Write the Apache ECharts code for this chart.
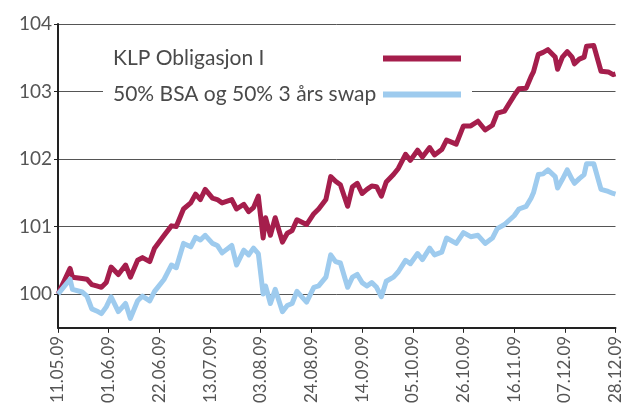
<!DOCTYPE html>
<html lang="no">
<head>
    <meta charset="UTF-8">
    <title>KLP Obligasjon I</title>
    <script src="https://cdn.jsdelivr.net/npm/echarts@6/dist/echarts.min.js"></script>
    <style>
        html, body { margin: 0; padding: 0; background: #fff; }
        #chart { width: 624px; height: 406px; }
    </style>
</head>
<body>
    <div id="chart"></div>
    <script type="text/javascript">
        // dager etter 11.05.09
        var days = [0, 5, 6, 10, 12, 14, 16, 18, 20, 22, 25, 28, 30, 33, 35, 38, 40, 44, 47, 49,
            52, 55, 57, 59, 61, 64, 66, 68, 72, 74, 77, 79, 81, 83, 85, 86, 88, 90, 93, 95,
            97, 99, 103, 106, 108, 111, 113, 115, 117, 120, 122, 124, 126, 128, 130, 132, 134, 136, 139, 141,
            144, 146, 149, 151, 154, 156, 159, 161, 165, 168, 171, 174, 177, 180, 182, 185, 189, 191, 194, 196,
            197, 199, 201, 203, 206, 207, 209, 211, 213, 214, 216, 218, 219, 222, 225, 228, 230, 231];

        var klp = [100, 100.38, 100.25, 100.23, 100.22, 100.14, 100.12, 100.1, 100.17, 100.4, 100.29, 100.43, 100.25, 100.5, 100.54, 100.48, 100.68, 100.87, 101.01, 101.0,
            101.26, 101.35, 101.48, 101.4, 101.55, 101.42, 101.4, 101.35, 101.4, 101.26, 101.33, 101.22, 101.28, 101.45, 100.83, 101.13, 100.87, 101.13, 100.77, 100.9,
            100.94, 101.1, 101.03, 101.19, 101.26, 101.4, 101.74, 101.67, 101.62, 101.3, 101.59, 101.64, 101.49, 101.55, 101.6, 101.59, 101.45, 101.66, 101.77, 101.86,
            102.07, 101.98, 102.13, 102.03, 102.17, 102.06, 102.14, 102.28, 102.22, 102.49, 102.49, 102.56, 102.43, 102.5, 102.68, 102.71, 102.94, 103.04, 103.05, 103.22,
            103.29, 103.55, 103.58, 103.62, 103.51, 103.33, 103.51, 103.59, 103.51, 103.41, 103.48, 103.51, 103.67, 103.68, 103.3, 103.29, 103.25, 103.26];

        var blanding = [100, 100.22, 100.07, 100.03, 99.97, 99.78, 99.75, 99.71, 99.81, 99.96, 99.74, 99.86, 99.64, 99.9, 99.97, 99.9, 100.04, 100.22, 100.43, 100.39,
            100.75, 100.7, 100.84, 100.8, 100.87, 100.75, 100.72, 100.61, 100.72, 100.43, 100.65, 100.58, 100.68, 100.6, 100.0, 100.12, 99.86, 100.07, 99.74, 99.83,
            99.86, 100.04, 99.88, 100.1, 100.12, 100.25, 100.58, 100.48, 100.46, 100.1, 100.25, 100.29, 100.17, 100.12, 100.17, 100.1, 99.96, 100.19, 100.25, 100.33,
            100.5, 100.45, 100.6, 100.51, 100.68, 100.58, 100.62, 100.83, 100.75, 100.91, 100.85, 100.87, 100.75, 100.83, 100.97, 101.03, 101.16, 101.26, 101.3, 101.42,
            101.5, 101.77, 101.78, 101.84, 101.74, 101.57, 101.7, 101.84, 101.7, 101.64, 101.71, 101.77, 101.93, 101.93, 101.55, 101.52, 101.49, 101.48];

        var seriesNames = ['KLP Obligasjon I', '50% BSA og 50% 3 års swap'];
        var yLabels = [100, 101, 102, 103, 104];

        var startDate = new Date(2009, 4, 11);
        function dato(v) {
            var d = new Date(startDate.getTime() + Math.round(v) * 86400000);
            var dd = ('0' + d.getDate()).slice(-2);
            var mm = ('0' + (d.getMonth() + 1)).slice(-2);
            var yy = ('' + d.getFullYear()).slice(-2);
            return dd + '.' + mm + '.' + yy;
        }

        var chart = echarts.init(document.getElementById('chart'));
        var option = {
            animation: false,
            textStyle: { fontFamily: 'Lato' },
            grid: { left: 58, right: 4, top: 24, bottom: 72 },
            legend: {
                orient: 'vertical',
                left: 103,
                top: 43,
                align: 'right',
                icon: 'rect',
                itemWidth: 78,
                itemHeight: 6,
                itemGap: 15,
                padding: [5, 11, 5, 10],
                backgroundColor: '#fff',
                formatter: function (name) { return '{t|' + name + '}'; },
                textStyle: {
                    fontSize: 21, color: '#4a4a4a', lineHeight: 20,
                    rich: { t: { fontSize: 21, color: '#4a4a4a', width: 265, align: 'left', lineHeight: 20 } }
                },
                data: seriesNames
            },
            xAxis: {
                type: 'value',
                min: 0,
                max: 231,
                interval: 21,
                axisLine: { lineStyle: { color: '#222', width: 2 } },
                axisTick: { length: 5, lineStyle: { color: '#222', width: 1 } },
                axisLabel: {
                    rotate: 90,
                    fontSize: 17,
                    color: '#555',
                    margin: 8,
                    formatter: dato
                },
                splitLine: { show: false }
            },
            yAxis: {
                type: 'value',
                min: 99.5,
                max: 104,
                interval: 0.5,
                axisLine: { show: true, lineStyle: { color: '#222', width: 2 } },
                axisTick: { show: true, length: 4, customValues: yLabels, lineStyle: { color: '#222' } },
                axisLabel: { fontSize: 19, color: '#555', margin: 6, customValues: yLabels },
                splitLine: { lineStyle: { color: '#555', width: 1 } }
            },
            series: [{
                name: seriesNames[0],
                type: 'line',
                showSymbol: false,
                color: '#a51e4c',
                lineStyle: { width: 5, join: 'round' },
                data: days.map(function (d, i) { return [d, klp[i]]; })
            }, {
                name: seriesNames[1],
                type: 'line',
                showSymbol: false,
                color: '#9ecbee',
                lineStyle: { width: 5, join: 'round' },
                data: days.map(function (d, i) { return [d, blanding[i]]; })
            }]
        };
        chart.setOption(option);
    </script>
</body>
</html>
